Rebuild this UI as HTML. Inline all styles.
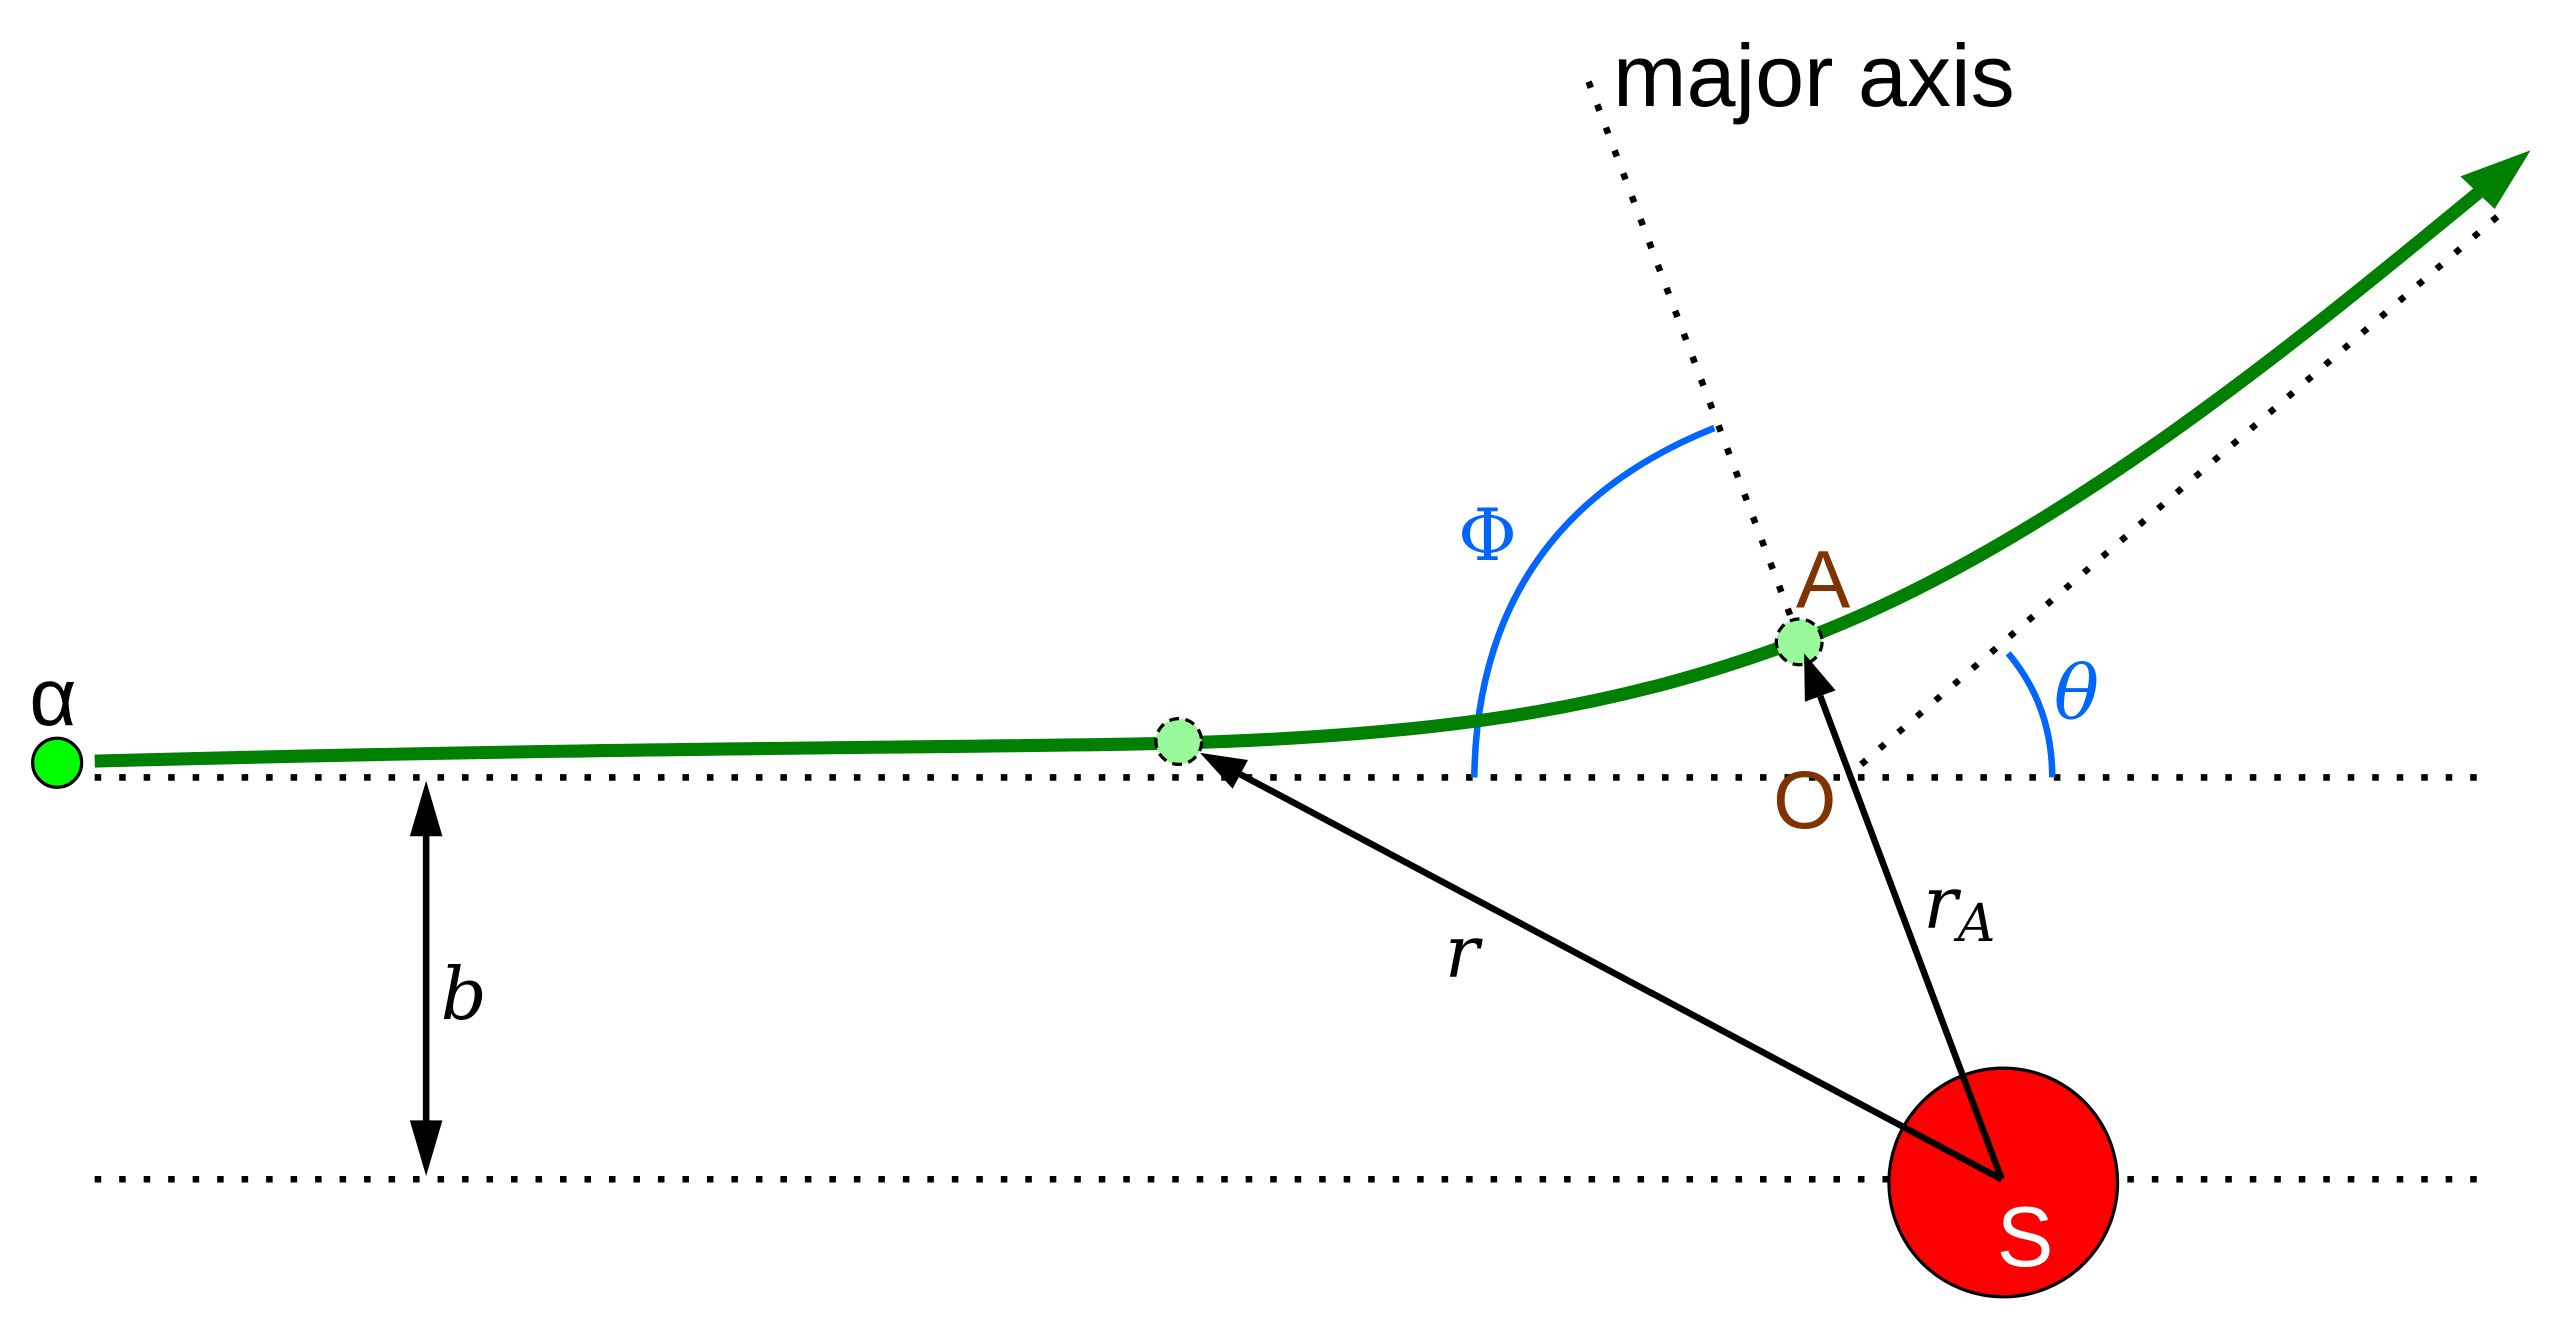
<!DOCTYPE html>
<html><head><meta charset="utf-8"><style>
html,body{margin:0;padding:0;background:#fff;}
svg{display:block;}
text{font-family:"Liberation Sans",sans-serif;}
.it{font-family:"DejaVu Serif","Liberation Serif",serif;font-style:italic;}
</style></head><body>
<svg width="2560" height="1336" viewBox="0 0 1568 818" preserveAspectRatio="none">
<g stroke="#000" stroke-width="4" stroke-dasharray="4,11" fill="none">
<line x1="58" y1="476" x2="1522" y2="476"/>
<line x1="58" y1="722" x2="1522" y2="722"/>
<line x1="973" y1="50" x2="1100" y2="386"/>
<line x1="1140" y1="468" x2="1535" y2="128"/>
</g>
<text x="988" y="65" font-size="54">major axis</text>
<path d="M903,476 Q905,320 1050,262" stroke="#0066ff" stroke-width="4" fill="none"/>
<text x="893" y="343" font-size="44" fill="#0066ff" style="font-family:'DejaVu Serif',serif">Φ</text>
<path d="M1230,400 Q1257,432 1257,476" stroke="#0066ff" stroke-width="4" fill="none"/>
<text class="it" x="1258" y="440" font-size="46" fill="#0066ff">θ</text>
<circle cx="1227" cy="724" r="70" fill="#ff0000" stroke="#000" stroke-width="2"/>
<text x="1223" y="775" font-size="52" fill="#fff">S</text>
<path d="M58,466 C400,457 600,458 720,455 C900,450 1000,430 1100,393 C1250,338 1400,215 1518,118" stroke="#008000" stroke-width="8" fill="none"/>
<polygon points="1550,92 1507,108 1528,128" fill="#008000"/>
<circle cx="35" cy="467" r="15" fill="#00ff00" stroke="#000" stroke-width="2"/>
<text x="18" y="444" font-size="50">α</text>
<line x1="1226" y1="722" x2="759.7" y2="474.1" stroke="#000" stroke-width="4"/>
<line x1="1226" y1="722" x2="1114.9" y2="426.2" stroke="#000" stroke-width="4"/>
<circle cx="722" cy="454" r="14" fill="#99f899" stroke="#000" stroke-width="2" stroke-dasharray="6,4"/>
<circle cx="1102" cy="393" r="14" fill="#99f899" stroke="#000" stroke-width="2" stroke-dasharray="6,4"/>
<polygon points="735,461 764.4,465.3 755,482.9" fill="#000"/>
<polygon points="1105,400 1124.3,422.7 1105.5,429.7" fill="#000"/>
<line x1="261" y1="500" x2="261" y2="700" stroke="#000" stroke-width="4"/>
<polygon points="261,478 251,512 271,512" fill="#000"/>
<polygon points="261,720 251,686 271,686" fill="#000"/>
<text class="it" x="270" y="624" font-size="44">b</text>
<text class="it" x="885" y="598" font-size="44">r</text>
<text class="it" x="1178" y="568" font-size="44">r<tspan font-size="32" dy="8">A</tspan></text>
<text x="1100" y="372" font-size="50" fill="#7f3300">A</text>
<text x="1086" y="507" font-size="50" fill="#7f3300">O</text>
</svg>
</body></html>
